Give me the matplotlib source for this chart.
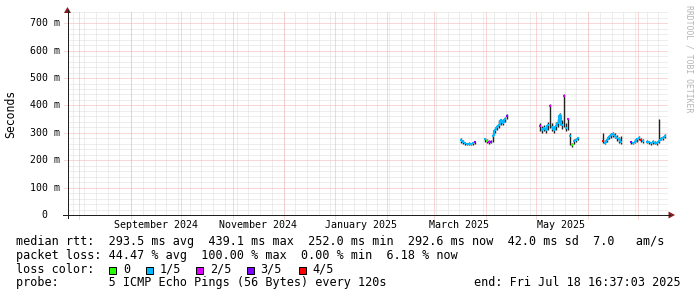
import matplotlib
matplotlib.use("Agg")
import matplotlib.pyplot as plt
import matplotlib.dates as mdates
from matplotlib.patches import Rectangle, Polygon
from matplotlib.lines import Line2D
from matplotlib.collections import LineCollection
from matplotlib.transforms import blended_transform_factory
from datetime import datetime, timedelta

# ---------------- data ----------------
END = datetime(2025, 7, 18, 16, 37, 3)
START = datetime(2024, 7, 24, 23, 0, 0)

days_before_end = [
    123.8, 122.6, 121.4, 120.2, 119.0, 117.8, 116.6, 115.4,
    109.4, 108.3, 107.1, 105.9, 104.7, 103.5, 102.3, 101.1, 99.9, 98.7, 97.5, 96.3,
    76.6, 75.4, 74.2, 73.0, 71.8, 70.6, 69.4, 68.2, 67.0, 65.8, 64.6, 63.4, 62.2, 61.0,
    59.8, 58.6, 57.4, 56.2, 55.0, 53.8,
    38.9, 37.7, 36.5, 35.3, 34.1, 32.9, 31.7, 30.5, 29.3, 28.1,
    22.1, 20.9, 19.7, 18.5, 17.3, 16.1, 15.0,
    12.6, 11.4, 10.2, 9.0, 7.8, 6.6, 5.4, 4.2, 3.0, 1.8,
]
median_ms = [
    274, 268, 262, 259, 261, 258, 262, 265,
    276, 270, 266, 268, 290, 310, 322, 328, 345, 335, 350, 362,
    325, 310, 318, 312, 330, 398, 320, 310, 325, 335, 365, 330, 436, 318,
    350, 290, 255, 270, 275, 280,
    270, 262, 272, 285, 292, 295, 288, 280, 278, 265,
    265, 262, 268, 276, 280, 275, 270,
    268, 265, 262, 268, 264, 262, 270, 278, 282, 290,
]
loss_idx = [
    1, 1, 1, 1, 1, 1, 1, 3,
    1, 0, 2, 3, 1, 1, 1, 1, 1, 1, 1, 3,
    2, 1, 1, 1, 1, 2, 1, 1, 1, 1, 1, 1, 2, 1,
    2, 1, 0, 1, 1, 1,
    4, 1, 1, 1, 1, 1, 1, 1, 1, 1,
    3, 1, 1, 1, 1, 4, 1,
    1, 1, 1, 1, 1, 1, 1, 1, 1, 1,
]
smoke_hi_ms = [
    282, 272, 266, 263, 265, 262, 266, 268,
    282, 276, 272, 274, 300, 318, 330, 345, 352, 350, 358, 370,
    335, 325, 330, 325, 340, 405, 335, 325, 340, 350, 372, 345, 440, 335,
    355, 300, 262, 278, 282, 285,
    300, 272, 280, 292, 300, 302, 298, 292, 285, 290,
    270, 268, 276, 282, 287, 282, 276,
    272, 270, 268, 275, 270, 268, 350, 285, 288, 296,
]
smoke_lo_ms = [
    262, 260, 256, 255, 256, 254, 257, 260,
    266, 262, 260, 262, 268, 300, 312, 318, 330, 330, 340, 350,
    305, 300, 305, 300, 310, 318, 305, 300, 310, 320, 330, 315, 320, 305,
    310, 255, 250, 258, 268, 272,
    262, 258, 265, 278, 282, 285, 280, 270, 262, 258,
    260, 258, 262, 268, 272, 268, 264,
    262, 258, 256, 260, 258, 256, 262, 272, 275, 282,
]

loss_labels = ["0", "1/5", "2/5", "3/5", "4/5"]
loss_colors = ["#26ff00", "#00b8ff", "#dd00ff", "#7e00ff", "#ff0000"]

y_ticks_ms = [0, 100, 200, 300, 400, 500, 600, 700]
y_tick_labels = ["0", "100 m", "200 m", "300 m", "400 m", "500 m", "600 m", "700 m"]
month_label_starts = [datetime(2024, 9, 1), datetime(2024, 11, 1), datetime(2025, 1, 1),
                      datetime(2025, 3, 1), datetime(2025, 5, 1)]
month_labels = ["September 2024", "November 2024", "January 2025", "March 2025", "May 2025"]

legend_rtt = "median rtt:  293.5 ms avg  439.1 ms max  252.0 ms min  292.6 ms now  42.0 ms sd  7.0   am/s"
legend_loss = "packet loss: 44.47 % avg  100.00 % max  0.00 % min  6.18 % now"
legend_color_title = "loss color:"
legend_probe = "probe:       5 ICMP Echo Pings (56 Bytes) every 120s"
legend_end = "end: Fri Jul 18 16:37:03 2025"
y_label = "Seconds"
watermark = "RRDTOOL / TOBI OETIKER"

# ---------------- figure ----------------
W, H = 697, 297
MONO = "DejaVu Sans Mono"
plt.rcParams["font.family"] = MONO

fig = plt.figure(figsize=(W / 100, H / 100), dpi=100, facecolor="white")
Y_TOP = 740
PX_BOTTOM, PX_TOP, PX_LEFT, PX_RIGHT = 215, 12.3, 67.5, 668
ax = fig.add_axes([PX_LEFT / W, (H - PX_BOTTOM) / H,
                   (PX_RIGHT - PX_LEFT) / W, (PX_BOTTOM - PX_TOP) / H])
ax.set_facecolor("white")
ax.set_xlim(mdates.date2num(START), mdates.date2num(END))
ax.set_ylim(0, Y_TOP)
ax.axis("off")


def F(x, y_img):
    """figure-pixel (image row coords) -> figure fraction"""
    return (x / W, (H - y_img) / H)


MINOR = "#dcdcdc"
MAJOR = "#f5b0b0"
DOT = (0, (1, 1))
LW1 = 0.72
ext_x = 4.0 / (PX_RIGHT - PX_LEFT)   # tick extension in axes fraction
ext_y = 3.5 / (PX_BOTTOM - PX_TOP)

# horizontal grid
for v in range(20, Y_TOP + 1, 20):
    if v % 100 == 0:
        continue
    ax.axhline(v, color=MINOR, lw=LW1, ls=DOT, zorder=1)
for v in y_ticks_ms[1:]:
    ax.axhline(v, xmin=-ext_x, xmax=1, color=MAJOR, lw=LW1, ls=DOT, zorder=1.1,
               clip_on=False)

# vertical grid: weekly (Sundays) and month starts
d = datetime(2024, 7, 28)
while d < END:
    ax.axvline(mdates.date2num(d), color=MINOR, lw=LW1, ls=DOT, zorder=1)
    d += timedelta(days=7)
m = datetime(2024, 8, 1)
while m < END:
    ax.axvline(mdates.date2num(m), ymin=-ext_y, ymax=1, color=MAJOR, lw=LW1, ls=DOT,
               zorder=1.1, clip_on=False)
    m = datetime(m.year + (m.month // 12), m.month % 12 + 1, 1)

# ---------------- data marks ----------------
times = [mdates.date2num(END - timedelta(days=db)) for db in days_before_end]
half = 0.6
smoke = [((t, lo), (t, hi)) for t, lo, hi in zip(times, smoke_lo_ms, smoke_hi_ms)]
ax.add_collection(LineCollection(smoke, colors="#222222", linewidths=1.0, zorder=3))

segs, cols = [], []
for i, (t, v, li) in enumerate(zip(times, median_ms, loss_idx)):
    segs.append(((t - half, v), (t + half, v)))
    cols.append(loss_colors[li])
    if (i + 1 < len(times) and times[i + 1] - t < 2.0
            and loss_idx[i + 1] == li):
        segs.append(((t + half, v), (t + half, median_ms[i + 1])))
        cols.append(loss_colors[li])
ax.add_collection(LineCollection(segs, colors=cols, linewidths=1.5, zorder=4,
                                 capstyle="butt"))

# ---------------- axes decorations ----------------
AXC = "#1f1f1f"
ARROW = "#8b1a1a"
fig.add_artist(Line2D([F(PX_LEFT, 0)[0]] * 2, [F(0, 218)[1], F(0, 10)[1]],
                      color=AXC, lw=LW1, transform=fig.transFigure))
fig.add_artist(Line2D([F(63, 0)[0], F(670, 0)[0]], [F(0, PX_BOTTOM)[1]] * 2,
                      color=AXC, lw=LW1, transform=fig.transFigure))
fig.add_artist(Polygon([F(PX_LEFT, 7), F(PX_LEFT - 3.5, 13), F(PX_LEFT + 3.5, 13)],
                       closed=True, color=ARROW, lw=0, transform=fig.transFigure))
fig.add_artist(Polygon([F(675, PX_BOTTOM), F(668.5, PX_BOTTOM - 3.5), F(668.5, PX_BOTTOM + 3.5)],
                       closed=True, color=ARROW, lw=0, transform=fig.transFigure))

# y tick labels
ytr = blended_transform_factory(fig.transFigure, ax.transData)
for v, lab in zip(y_ticks_ms, y_tick_labels):
    xr = 47.5 if v == 0 else 60.0
    ax.text(xr / W, v, lab, transform=ytr, ha="right", va="center",
            fontsize=7.1, color="black", clip_on=False)

# month labels
xtr = blended_transform_factory(ax.transData, fig.transFigure)
for ms, lab in zip(month_label_starts, month_labels):
    xpos = mdates.date2num(ms + timedelta(days=15))
    ax.text(xpos, (H - 224.5) / H, lab, transform=xtr, ha="center", va="center",
            fontsize=7.2, color="black", clip_on=False)

# y label
fig.text(11 / W, (H - 114) / H, y_label, rotation=90, ha="center", va="center",
         fontsize=8.3, color="black")
# watermark
fig.text(688.5 / W, (H - 59) / H, watermark, rotation=270, ha="center", va="center",
         fontsize=5.9, color="#b4b4b4")

# ---------------- legend ----------------
LFS = 8.5
fig.text(16 / W, (H - 241.7) / H, legend_rtt, ha="left", va="center", fontsize=LFS)
fig.text(16 / W, (H - 255.3) / H, legend_loss, ha="left", va="center", fontsize=LFS)
fig.text(16 / W, (H - 269.3) / H, legend_color_title, ha="left", va="center", fontsize=LFS)
sq_x = [109, 145.5, 196, 246.5, 298.5]
for sx, c, lab in zip(sq_x, loss_colors, loss_labels):
    x0, y0 = F(sx, 273.5)
    fig.add_artist(Rectangle((x0, y0), 7 / W, 7 / H, facecolor=c, edgecolor="black",
                             lw=LW1, transform=fig.transFigure))
    fig.text((sx + 14) / W, (H - 269.3) / H, lab, ha="left", va="center", fontsize=LFS)
fig.text(16 / W, (H - 282.8) / H, legend_probe, ha="left", va="center", fontsize=LFS)
fig.text(681 / W, (H - 282.8) / H, legend_end, ha="right", va="center", fontsize=LFS)

fig.savefig("out.png", dpi=100, facecolor="white")
